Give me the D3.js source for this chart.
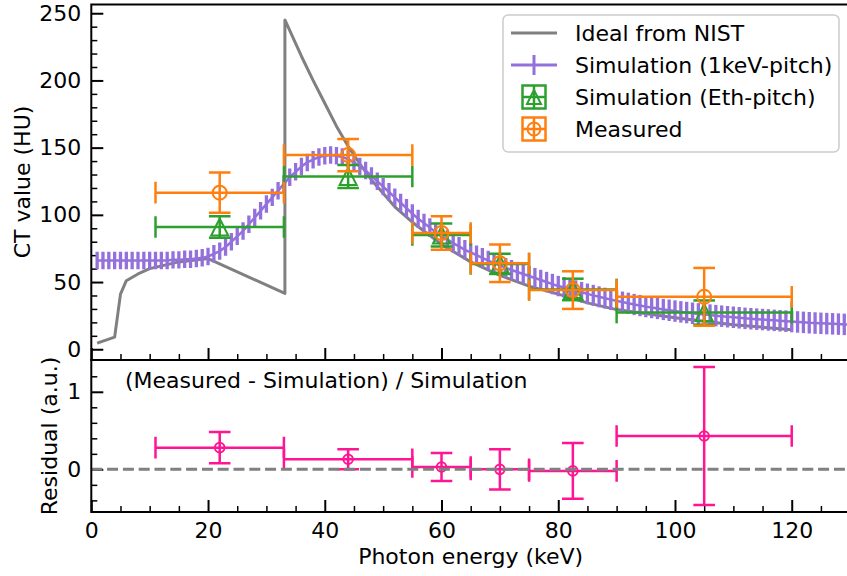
<!DOCTYPE html>
<html>
<head>
<meta charset="utf-8">
<script src="https://cdn.jsdelivr.net/npm/d3@7"></script>
<style>
body { margin: 0; background: #fff; }
text { font-family: "DejaVu Sans", sans-serif; fill: #000; }
</style>
</head>
<body>
<svg id="chart" width="847" height="576"></svg>
<script>
// NIST ideal curve (keV, HU)
const nistEnergy = [1, 4, 5, 6, 8, 10, 15, 20, 33.17, 33.17, 36, 38, 40, 42, 44, 46, 48, 50, 52, 55, 60, 65, 70, 75, 80, 85, 90, 100, 110, 120];
const nistHU = [4.5, 9, 41, 51, 56, 60, 65, 67.5, 41.5, 245, 218, 200, 183, 166, 151, 138, 126, 116, 106, 94.5, 78, 65, 55, 47, 41, 34.5, 29.5, 23.5, 18.3, 14.5];

// simulation with 1 keV pitch, one value per keV from 1 keV to 130 keV
const simHU = [
  66, 66, 66, 66, 66, 66, 66, 66, 66, 66,
  66, 66, 66, 66.5, 66.5, 67, 67, 67.5, 68, 69,
  71, 73, 76, 80, 84, 88, 93, 98, 103, 108,
  113, 118, 123, 128, 132, 136, 139, 141, 143, 144,
  144.5, 144, 143, 141.5, 139, 136, 133, 129, 125, 121,
  117, 113, 109, 105, 101, 97, 94, 90.5, 87, 84,
  81.5, 79, 76.5, 74, 72, 70, 68, 66, 64, 62.5,
  60.5, 59, 57.5, 56, 54.5, 53, 51.5, 50, 48.5, 47,
  46, 44.8, 43.6, 42.4, 41.2, 40.1, 39, 38, 37, 36,
  35.1, 34.2, 33.3, 32.5, 31.7, 31, 30.3, 29.6, 29, 28.4,
  27.8, 27.3, 26.8, 26.3, 25.8, 25.4, 25, 24.6, 24.2, 23.8,
  23.4, 23, 22.7, 22.4, 22.1, 21.8, 21.5, 21.2, 20.9, 20.6,
  20.3, 20, 19.7, 19.5, 19.3, 19.1, 18.9, 18.7, 18.5, 18.3
];
const simErr = [
  6.5, 6.5, 6.5, 6.5, 6.5, 6.5, 6.5, 6.5, 6.5, 6.5,
  6.5, 6.5, 6.5, 6.5, 6.5, 6.5, 6.5, 6.5, 6.5, 6.5,
  6.5, 6.5, 6.5, 6.5, 6.5, 6.5, 6.5, 6.5, 6.5, 6.5,
  6.5, 6.5, 6.5, 6.5, 6.5, 6.5, 6.5, 6.5, 6.5, 6.5,
  6.5, 6.5, 6.5, 6.5, 6.5, 6.5, 6.5, 6.5, 6.5, 6.5,
  6.6, 6.6, 6.7, 6.7, 6.8, 6.8, 6.9, 6.9, 7, 7,
  7, 7.1, 7.1, 7.2, 7.2, 7.2, 7.3, 7.3, 7.3, 7.4,
  7.4, 7.4, 7.5, 7.5, 7.5, 7.5, 7.6, 7.6, 7.6, 7.6,
  7.7, 7.7, 7.7, 7.7, 7.7, 7.8, 7.8, 7.8, 7.8, 7.8,
  7.8, 7.9, 7.9, 7.9, 7.9, 7.9, 7.9, 7.9, 8, 8,
  8, 8, 8, 8, 8, 8, 8, 8, 8, 8,
  8, 8, 8, 8, 8, 8, 8, 8, 8, 8,
  8, 8, 8, 8, 8, 8, 8, 8, 8, 8
];

// energy bins
const binCenter = [22, 44, 60, 70, 82.5, 105];
const binHalf = [11, 11, 5, 5, 7.5, 15];
const ethHU = [91, 128.5, 85, 63.5, 44.5, 27.3];
const ethErr = [8, 8.5, 8.5, 7.5, 8, 9];
const measHU = [116.5, 144.5, 86.5, 64, 44, 39];
const measErr = [15, 12, 12.5, 14, 14, 21.5];
const residual = [0.28, 0.13, 0.03, 0.0, -0.02, 0.43];
const residualErr = [0.2, 0.13, 0.18, 0.26, 0.36, 0.89];

const legendLabels = ['Ideal from NIST', 'Simulation (1keV-pitch)', 'Simulation (Eth-pitch)', 'Measured'];

const GRAY = '#808080', PURPLE = '#9370db', GREEN = '#2ca02c', ORANGE = '#ff7f0e', PINK = '#ff1493';

const svg = d3.select('#chart');
const left = 91.3, right = 850.1, plotTop = 4.5, mid = 360, bottom = 512;
const FS = 22;

const x = d3.scaleLinear().domain([0, 130]).range([left, right]);
const yTop = d3.scaleLinear().domain([-8, 256.5]).range([mid, plotTop]);
const yRes = d3.scaleLinear().domain([-0.55, 1.41]).range([bottom, mid]);

svg.append('clipPath').attr('id', 'clipTop').append('rect')
  .attr('x', left).attr('y', plotTop).attr('width', right - left).attr('height', mid - plotTop);
svg.append('clipPath').attr('id', 'clipRes').append('rect')
  .attr('x', left).attr('y', mid).attr('width', right - left).attr('height', bottom - mid);

// axes helper
function styleAxis(g, width) {
  g.select('.domain').remove();
  g.selectAll('line').attr('stroke', '#000').attr('stroke-width', width);
  g.selectAll('text').attr('font-size', FS).attr('font-family', '"DejaVu Sans", sans-serif');
}
const xMajor = [0, 20, 40, 60, 80, 100, 120];
const xMinor = d3.range(5, 130, 5).filter(v => v % 20 !== 0);

// top panel axes
svg.append('g').attr('transform', `translate(${left},0)`)
  .call(d3.axisLeft(yTop).tickValues([0, 50, 100, 150, 200, 250]).tickSize(-12).tickPadding(10))
  .call(g => styleAxis(g, 2));
svg.append('g').attr('transform', `translate(${left},0)`)
  .call(d3.axisLeft(yTop).tickValues(d3.range(10, 250, 10).filter(v => v % 50 !== 0)).tickSize(-6).tickFormat(''))
  .call(g => styleAxis(g, 1.5));
svg.append('g').attr('transform', `translate(0,${mid})`)
  .call(d3.axisBottom(x).tickValues(xMajor).tickSize(-12).tickFormat(''))
  .call(g => styleAxis(g, 2));
svg.append('g').attr('transform', `translate(0,${mid})`)
  .call(d3.axisBottom(x).tickValues(xMinor).tickSize(-6).tickFormat(''))
  .call(g => styleAxis(g, 1.5));

// residual panel axes
svg.append('g').attr('transform', `translate(${left},0)`)
  .call(d3.axisLeft(yRes).tickValues([0, 1]).tickSize(-12).tickPadding(10).tickFormat(d3.format('d')))
  .call(g => styleAxis(g, 2));
svg.append('g').attr('transform', `translate(${left},0)`)
  .call(d3.axisLeft(yRes).tickValues([-0.4, -0.2, 0.2, 0.4, 0.6, 0.8, 1.2]).tickSize(-6).tickFormat(''))
  .call(g => styleAxis(g, 1.5));
svg.append('g').attr('transform', `translate(0,${bottom})`)
  .call(d3.axisBottom(x).tickValues(xMajor).tickSize(-12).tickPadding(10))
  .call(g => styleAxis(g, 2));
svg.append('g').attr('transform', `translate(0,${bottom})`)
  .call(d3.axisBottom(x).tickValues(xMinor).tickSize(-6).tickFormat(''))
  .call(g => styleAxis(g, 1.5));

// ---- top panel data ----
const gTop = svg.append('g').attr('clip-path', 'url(#clipTop)');

const nist = nistEnergy.map((e, i) => [e, nistHU[i]]);
gTop.append('path').datum(nist)
  .attr('fill', 'none').attr('stroke', GRAY).attr('stroke-width', 3).attr('stroke-linejoin', 'round')
  .attr('d', d3.line().x(d => x(d[0])).y(d => yTop(d[1])));

const sim = simHU.map((v, i) => ({e: i + 1, v: v, err: simErr[i]}));
gTop.append('path').datum(sim)
  .attr('fill', 'none').attr('stroke', PURPLE).attr('stroke-width', 2.5)
  .attr('d', d3.line().x(d => x(d.e)).y(d => yTop(d.v)));
gTop.selectAll('.simbar').data(sim).join('line').attr('class', 'simbar')
  .attr('x1', d => x(d.e)).attr('x2', d => x(d.e))
  .attr('y1', d => yTop(d.v - d.err)).attr('y2', d => yTop(d.v + d.err))
  .attr('stroke', PURPLE).attr('stroke-width', 3.3);

function errorBars(g, pts, y, color, marker, size, cap) {
  const p = g.append('g').selectAll('g').data(pts).join('g')
    .attr('stroke', color).attr('stroke-width', 2.5).attr('fill', 'none');
  p.append('line').attr('x1', d => x(d.x - d.xe)).attr('x2', d => x(d.x + d.xe))
    .attr('y1', d => y(d.y)).attr('y2', d => y(d.y));
  p.append('line').attr('x1', d => x(d.x)).attr('x2', d => x(d.x))
    .attr('y1', d => y(d.y - d.ye)).attr('y2', d => y(d.y + d.ye));
  [-1, 1].forEach(s => {
    p.append('line').attr('x1', d => x(d.x + s * d.xe)).attr('x2', d => x(d.x + s * d.xe))
      .attr('y1', d => y(d.y) - cap).attr('y2', d => y(d.y) + cap);
    p.append('line').attr('x1', d => x(d.x) - cap).attr('x2', d => x(d.x) + cap)
      .attr('y1', d => y(d.y + s * d.ye)).attr('y2', d => y(d.y + s * d.ye));
  });
  drawMarker(p, d => x(d.x), d => y(d.y), marker, size);
}
function drawMarker(sel, fx, fy, marker, size) {
  if (marker === 'circle') {
    sel.append('circle').attr('cx', fx).attr('cy', fy).attr('r', size).attr('stroke-width', 2);
  } else {
    sel.append('path').attr('stroke-width', 2)
      .attr('d', d => { const cx = fx(d), cy = fy(d);
        return `M${cx},${cy - size}L${cx - size},${cy + size}L${cx + size},${cy + size}Z`; });
  }
}

const ethPts = binCenter.map((c, i) => ({x: c, xe: binHalf[i], y: ethHU[i], ye: ethErr[i]}));
const measPts = binCenter.map((c, i) => ({x: c, xe: binHalf[i], y: measHU[i], ye: measErr[i]}));
errorBars(gTop, ethPts, yTop, GREEN, 'triangle', 8.5, 10.8);
errorBars(gTop, measPts, yTop, ORANGE, 'circle', 7, 10.8);

// ---- residual panel ----
const gRes = svg.append('g').attr('clip-path', 'url(#clipRes)');
const resPts = binCenter.map((c, i) => ({x: c, xe: binHalf[i], y: residual[i], ye: residualErr[i]}));
errorBars(gRes, resPts, yRes, PINK, 'circle', 4.8, 10.8);
gRes.append('line').attr('x1', left).attr('x2', right).attr('y1', yRes(0)).attr('y2', yRes(0))
  .attr('stroke', GRAY).attr('stroke-width', 3).attr('stroke-dasharray', '11,4.8');

svg.append('text').attr('x', 125).attr('y', 388).attr('font-size', FS)
  .text('(Measured - Simulation) / Simulation');

// frames
[[plotTop, mid], [mid, bottom]].forEach(([a, b]) => {
  svg.append('rect').attr('x', left).attr('y', a).attr('width', right - left).attr('height', b - a)
    .attr('fill', 'none').attr('stroke', '#000').attr('stroke-width', 2);
});

// axis labels
svg.append('text').attr('transform', 'translate(22,182) rotate(-90)')
  .attr('text-anchor', 'middle').attr('dy', '0.35em').attr('font-size', FS).text('CT value (HU)');
svg.append('text').attr('transform', 'translate(49,436) rotate(-90)')
  .attr('text-anchor', 'middle').attr('dy', '0.35em').attr('font-size', FS).text('Residual (a.u.)');
svg.append('text').attr('x', (left + right) / 2).attr('y', 556)
  .attr('text-anchor', 'middle').attr('dy', '0.35em').attr('font-size', FS).text('Photon energy (keV)');

// legend
const lg = svg.append('g');
lg.append('rect').attr('x', 503).attr('y', 15).attr('width', 336).attr('height', 137).attr('rx', 5)
  .attr('fill', '#fff').attr('fill-opacity', 0.8).attr('stroke', '#cccccc').attr('stroke-width', 1.5);
const rowY = [33, 65, 97, 129];
lg.selectAll('.lt').data(legendLabels).join('text').attr('class', 'lt')
  .attr('x', 575).attr('y', (d, i) => rowY[i]).attr('dy', '0.35em').attr('font-size', FS).text(d => d);
lg.append('line').attr('x1', 511).attr('x2', 557).attr('y1', rowY[0]).attr('y2', rowY[0])
  .attr('stroke', GRAY).attr('stroke-width', 3);
lg.append('line').attr('x1', 511).attr('x2', 557).attr('y1', rowY[1]).attr('y2', rowY[1])
  .attr('stroke', PURPLE).attr('stroke-width', 3);
lg.append('line').attr('x1', 534).attr('x2', 534).attr('y1', rowY[1] - 10).attr('y2', rowY[1] + 10)
  .attr('stroke', PURPLE).attr('stroke-width', 3);
[[rowY[2], GREEN, 'triangle', 7], [rowY[3], ORANGE, 'circle', 6.5]].forEach(([cy, col, mk, sz]) => {
  const h = lg.append('g').attr('stroke', col).attr('stroke-width', 2.5).attr('fill', 'none');
  const cx = 534, s = 11.5;
  h.append('line').attr('x1', cx - s).attr('x2', cx + s).attr('y1', cy).attr('y2', cy);
  h.append('line').attr('x1', cx).attr('x2', cx).attr('y1', cy - s).attr('y2', cy + s);
  h.append('rect').attr('x', cx - s).attr('y', cy - s).attr('width', 2 * s).attr('height', 2 * s);
  const m = h.append('g').datum({});
  drawMarker(m, () => cx, () => cy, mk, sz);
});
</script>
</body>
</html>
